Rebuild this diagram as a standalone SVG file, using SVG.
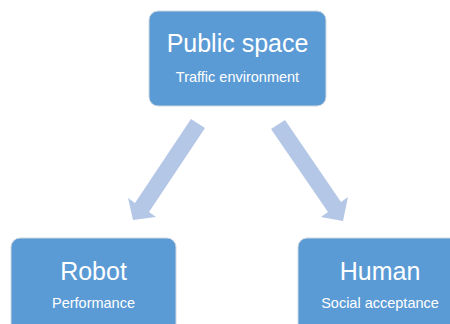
<svg xmlns="http://www.w3.org/2000/svg" width="450" height="324" viewBox="0 0 450 324">
<style>
.box{fill:#5B9BD5;stroke:#d0d8e0;stroke-width:1}
.t1{font-family:"Liberation Sans",Arial,sans-serif;font-size:25px;fill:#fff;text-anchor:middle}
.t2{font-family:"Liberation Sans",Arial,sans-serif;font-size:14.5px;fill:#fff;text-anchor:middle}
.arr{fill:#B4C7E7}
</style>
<rect width="450" height="324" fill="#fff"/>
<g id="connectors">
<polygon class="arr" points="191,119 205,128 149,212 156,217 133,220 128,198 135,203"/>
<polygon class="arr" points="271,129 285,120 341,202 348,197 343,221 321,217 328,212"/>
</g>
<g id="public-space">
<rect class="box" x="149" y="11" width="177" height="95" rx="9"/>
<text class="t1" x="237.5" y="52">Public space</text>
<text class="t2" x="237.5" y="82">Traffic environment</text>
</g>
<g id="robot">
<rect class="box" x="11" y="238" width="165" height="100" rx="9"/>
<text class="t1" x="93.5" y="280">Robot</text>
<text class="t2" x="93.5" y="308">Performance</text>
</g>
<g id="human">
<rect class="box" x="298" y="238" width="165" height="100" rx="9"/>
<text class="t1" x="380" y="280">Human</text>
<text class="t2" x="380" y="308">Social acceptance</text>
</g>
</svg>
